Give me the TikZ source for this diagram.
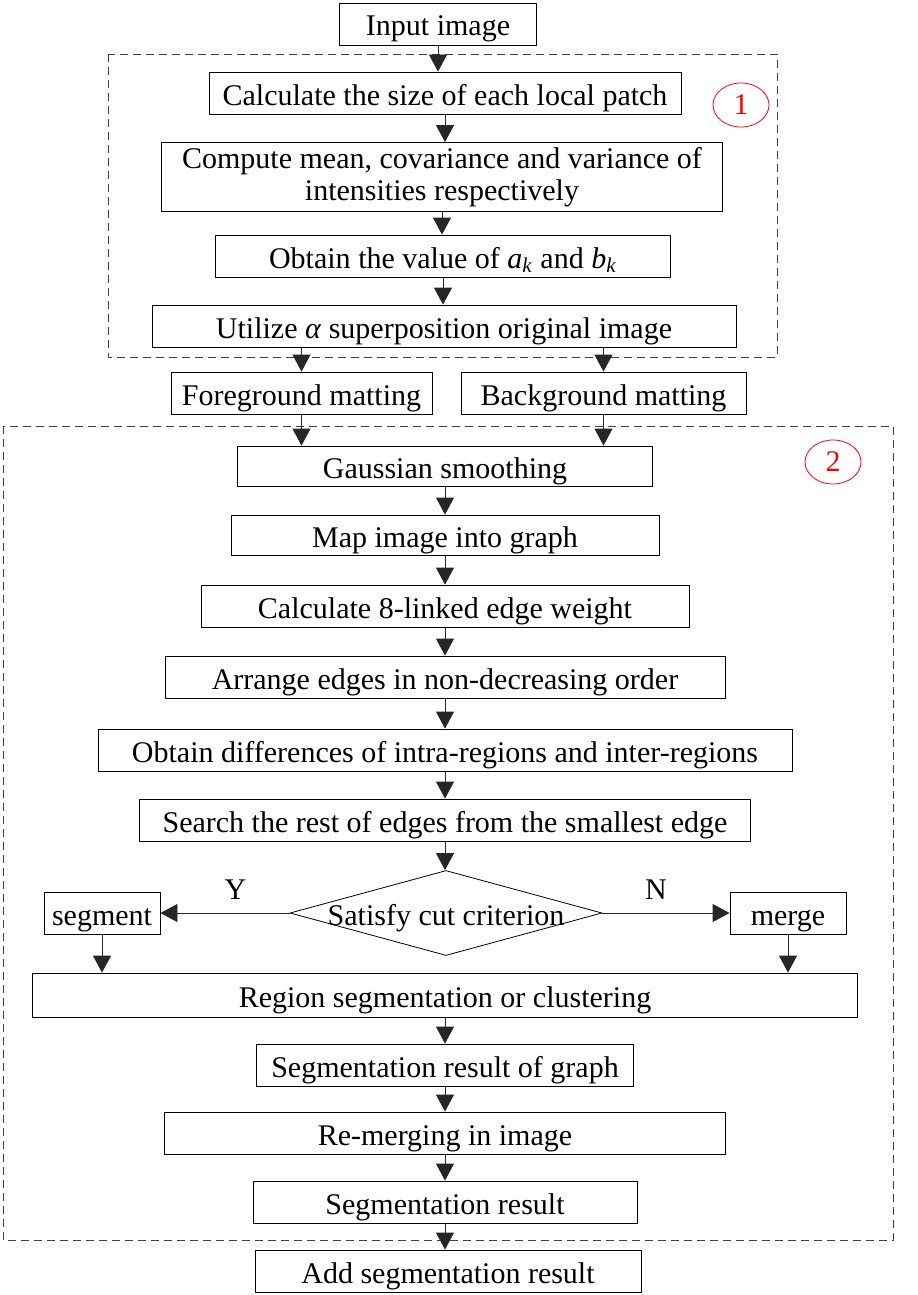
\documentclass[tikz,border=0pt]{standalone}
\usepackage{fontspec}
\setmainfont{Liberation Serif}
\usetikzlibrary{shapes.geometric, arrows.meta, positioning}

\begin{document}
\begin{tikzpicture}[
        x=0.5pt, y=-0.5pt,
        font=\fontsize{15}{16}\selectfont,
        box/.style={draw, rectangle, minimum height=21pt, inner sep=2pt, align=center, text height=13.5pt, text depth=1.5pt},
        decision/.style={draw, diamond, aspect=3.7, inner xsep=-15pt, inner ysep=0pt, minimum width=156pt, minimum height=42.5pt, text height=13.5pt, text depth=1.5pt},
        arr/.style={-{Triangle[width=9pt,length=8.5pt]}, black!85},
        group/.style={draw=black!75, dash pattern=on 4pt off 2.5pt},
        tag/.style={draw=red, ellipse, text=red, minimum width=28pt, minimum height=22pt, inner sep=0pt}
    ]
        \useasboundingbox (0,0) rectangle (917,1295);

        % Groups
        \draw[group] (108,54) rectangle (777,357);
        \draw[group] (3,426) rectangle (893,1240);
        \node[tag] (tag1) at (741,105) {1};
        \node[tag] (tag2) at (833,462) {2};

        % Nodes
        \node[box, minimum width=98.5pt] (input) at (438,24) {Input image};
        \node[box, minimum width=236pt] (patch) at (445,93) {Calculate the size of each local patch};
        \node[box, minimum width=280.5pt, minimum height=34.5pt, text height=, text depth=] (stats) at (442,177) {Compute mean, covariance and variance of\\intensities respectively};
        \node[box, minimum width=227.5pt] (coef) at (443,256) {Obtain the value of \textit{a}\textsubscript{\textit{k}} and \textit{b}\textsubscript{\textit{k}}};
        \node[box, minimum width=292pt] (alpha) at (444,326) {Utilize \textit{α} superposition original image};
        \node[box, minimum width=130.5pt] (fg) at (301.5,393) {Foreground matting};
        \node[box, minimum width=142.5pt] (bg) at (603.5,393) {Background matting};

        \node[box, minimum width=207.5pt, minimum height=20pt] (smooth) at (445,466) {Gaussian smoothing};
        \node[box, minimum width=214pt, minimum height=20pt] (graph) at (445,535) {Map image into graph};
        \node[box, minimum width=244pt] (weight) at (445,606) {Calculate 8-linked edge weight};
        \node[box, minimum width=280pt] (sort) at (445,677) {Arrange edges in non-decreasing order};
        \node[box, minimum width=347pt] (diff) at (445,750) {Obtain differences of intra-regions and inter-regions};
        \node[box, minimum width=305.5pt] (search) at (445,820) {Search the rest of edges from the smallest edge};
        \node[decision] (cut) at (446,913) {Satisfy cut criterion};
        \node[box, minimum width=58pt] (seg) at (102,913) {segment};
        \node[box, minimum width=58pt] (merge) at (788,913) {merge};
        \node[box, minimum width=412.5pt, minimum height=22pt] (region) at (445,995) {Region segmentation or clustering};
        \node[box, minimum width=188.5pt] (gres) at (445,1065) {Segmentation result of graph};
        \node[box, minimum width=280.5pt] (remerge) at (445,1133) {Re-merging in image};
        \node[box, minimum width=192pt] (result) at (445,1202) {Segmentation result};
        \node[box, minimum width=193pt] (add) at (448,1271) {Add segmentation result};

        % Arrows
        \draw[arr] (input) -- (input |- patch.north);
        \draw[arr] (patch) -- (patch |- stats.north);
        \draw[arr] (stats) -- (stats |- coef.north);
        \draw[arr] (coef) -- (coef |- alpha.north);
        \draw[arr] (fg |- alpha.south) -- (fg);
        \draw[arr] (bg |- alpha.south) -- (bg);
        \draw[arr] (fg) -- (fg |- smooth.north);
        \draw[arr] (bg) -- (bg |- smooth.north);
        \draw[arr] (smooth) -- (graph);
        \draw[arr] (graph) -- (weight);
        \draw[arr] (weight) -- (sort);
        \draw[arr] (sort) -- (diff);
        \draw[arr] (diff) -- (search);
        \draw[arr] (search) -- (search |- cut.north);
        \draw[arr] (cut.west) -- node[pos=0.42, above=3pt, black] {Y} (seg.east);
        \draw[arr] (cut.east) -- node[pos=0.42, above=3pt, black] {N} (merge.west);
        \draw[arr] (seg) -- (seg |- region.north);
        \draw[arr] (merge) -- (merge |- region.north);
        \draw[arr] (region) -- (gres);
        \draw[arr] (gres) -- (remerge);
        \draw[arr] (remerge) -- (result);
        \draw[arr] (result) -- (result |- add.north);
    \end{tikzpicture}
\end{document}
